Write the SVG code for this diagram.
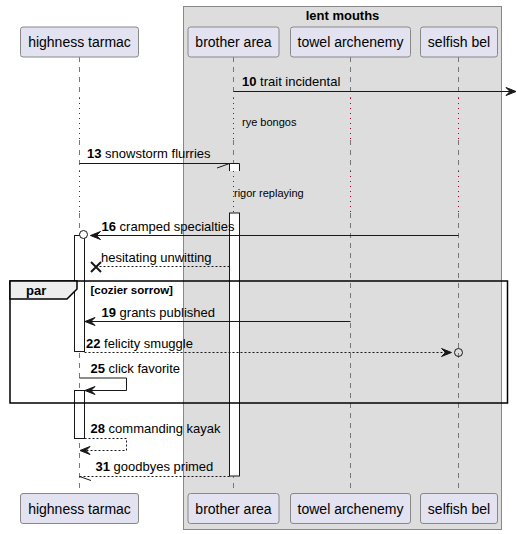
<svg xmlns="http://www.w3.org/2000/svg" width="517" height="534" viewBox="0 0 517 534">
<style>
text{font-family:"Liberation Sans",Arial,sans-serif;fill:#000}
.pbox{fill:#E2E2F0;stroke:#888888;stroke-width:1}
.pt{font-size:14px;text-anchor:middle}
.life{stroke:#777777;stroke-width:1;stroke-dasharray:5,5;fill:none}
.delay{stroke:#A80036;stroke-width:1;stroke-dasharray:1,4;fill:none}
.act{fill:#FFFFFF;stroke:#181818;stroke-width:1}
.msg{stroke:#181818;stroke-width:1;fill:none}
.dash{stroke-dasharray:2,2}
.mt{font-size:13px}
.num{font-weight:bold}
.dt{font-size:11px}
</style>
<defs>
<marker id="ah" viewBox="-1 -1 12 10" refX="10" refY="4" markerWidth="12" markerHeight="10" markerUnits="userSpaceOnUse" orient="auto">
<polygon points="10,4 0,0 4,4 0,8" fill="#181818" stroke="#181818" stroke-width="1" stroke-linejoin="miter"/>
</marker>
</defs>
<g id="box-lent-mouths">
<rect x="183.5" y="6.5" width="318" height="523" fill="#DDDDDD" stroke="#888888" stroke-width="1"/>
<text x="342.5" y="19.5" font-size="13" font-weight="bold" text-anchor="middle">lent mouths</text>
</g>
<g id="lifelines">
<path class="life" d="M79.5,57V98M79.5,140V171M79.5,213V493"/>
<path class="delay" d="M79.5,98V140M79.5,171V213"/>
<path class="life" d="M233.5,57V98M233.5,140V171M233.5,213V493"/>
<path class="delay" d="M233.5,98V140M233.5,171V213"/>
<path class="life" d="M350.5,57V98M350.5,140V171M350.5,213V493"/>
<path class="delay" d="M350.5,98V140M350.5,171V213"/>
<path class="life" d="M458.5,57V98M458.5,140V171M458.5,213V493"/>
<path class="delay" d="M458.5,98V140M458.5,171V213"/>
</g>
<g id="activations">
<path d="M229.5,171V163.5H239.5V171" fill="#FFFFFF" stroke="#181818"/>
<rect class="act" x="229.5" y="213" width="10" height="263"/>
<rect class="act" x="74.5" y="235.5" width="10" height="116"/>
<rect class="act" x="74.5" y="390.5" width="10" height="48"/>
</g>
<g id="node-highness-tarmac">
<rect class="pbox" x="20.5" y="27" width="118" height="30" rx="2.5"/>
<text class="pt" x="79.5" y="47">highness tarmac</text>
<rect class="pbox" x="20.5" y="493.5" width="118" height="30" rx="2.5"/>
<text class="pt" x="79.5" y="513.5">highness tarmac</text>
</g>
<g id="node-brother-area">
<rect class="pbox" x="188" y="27" width="91" height="30" rx="2.5"/>
<text class="pt" x="233.5" y="47">brother area</text>
<rect class="pbox" x="188" y="493.5" width="91" height="30" rx="2.5"/>
<text class="pt" x="233.5" y="513.5">brother area</text>
</g>
<g id="node-towel-archenemy">
<rect class="pbox" x="290.5" y="27" width="120" height="30" rx="2.5"/>
<text class="pt" x="350.5" y="47">towel archenemy</text>
<rect class="pbox" x="290.5" y="493.5" width="120" height="30" rx="2.5"/>
<text class="pt" x="350.5" y="513.5">towel archenemy</text>
</g>
<g id="node-selfish-bel">
<rect class="pbox" x="420.5" y="27" width="77" height="30" rx="2.5"/>
<text class="pt" x="459" y="47">selfish bel</text>
<rect class="pbox" x="420.5" y="493.5" width="77" height="30" rx="2.5"/>
<text class="pt" x="459" y="513.5">selfish bel</text>
</g>
<g id="delays">
<text class="dt" x="242" y="125.5">rye bongos</text>
<text class="dt" x="234" y="197">rigor replaying</text>
</g>
<g id="frame-par">
<rect x="10" y="281" width="497.5" height="122" fill="none" stroke="#000000" stroke-width="1.5"/>
<polygon points="10,281 77,281 77,289 67,299 10,299" fill="#EEEEEE" stroke="#000000" stroke-width="1.5"/>
<text x="26" y="295" font-size="13" font-weight="bold">par</text>
<text x="90.5" y="294" font-size="11.5" font-weight="bold">[cozier sorrow]</text>
</g>
<g id="connectors">
<line class="msg" x1="233.5" y1="91.5" x2="516" y2="91.5" marker-end="url(#ah)"/>
<text class="mt" x="242" y="86"><tspan class="num">10</tspan> trait incidental</text>

<line class="msg" x1="79.5" y1="163.5" x2="229.5" y2="163.5"/>
<line class="msg" x1="217" y1="168" x2="229.5" y2="163.5"/>
<text class="mt" x="87" y="158"><tspan class="num">13</tspan> snowstorm flurries</text>

<line class="msg" x1="458.5" y1="235.5" x2="90.5" y2="235.5" marker-end="url(#ah)"/>
<circle cx="83.5" cy="234.5" r="4" fill="#FFFFFF" stroke="#181818" stroke-width="1"/>
<text class="mt" x="101.5" y="230.5"><tspan class="num">16</tspan> cramped specialties</text>

<line class="msg dash" x1="229.5" y1="266.5" x2="96" y2="266.5"/>
<path d="M91,262L101,272M91,272L101,262" fill="none" stroke="#181818" stroke-width="2"/>
<text class="mt" x="101" y="261.5">hesitating unwitting</text>

<line class="msg" x1="350.5" y1="321.5" x2="85" y2="321.5" marker-end="url(#ah)"/>
<text class="mt" x="101.5" y="316.5"><tspan class="num">19</tspan> grants published</text>

<line class="msg dash" x1="84.5" y1="352.5" x2="451.5" y2="352.5" marker-end="url(#ah)"/>
<circle cx="458.5" cy="352.5" r="4" fill="none" stroke="#181818" stroke-width="1"/>
<text class="mt" x="86" y="347.5"><tspan class="num">22</tspan> felicity smuggle</text>

<polyline class="msg" points="79.5,378 126.5,378 126.5,390.5 85,390.5" marker-end="url(#ah)"/>
<text class="mt" x="90.5" y="373"><tspan class="num">25</tspan> click favorite</text>

<polyline class="msg dash" points="84.5,438.5 126.5,438.5 126.5,450.5 80,450.5" marker-end="url(#ah)"/>
<text class="mt" x="90.5" y="433"><tspan class="num">28</tspan> commanding kayak</text>

<line class="msg dash" x1="229.5" y1="476.5" x2="79.5" y2="476.5"/>
<line class="msg" x1="79.5" y1="476.5" x2="91" y2="480.5"/>
<text class="mt" x="95.5" y="471"><tspan class="num">31</tspan> goodbyes primed</text>
</g>
</svg>
